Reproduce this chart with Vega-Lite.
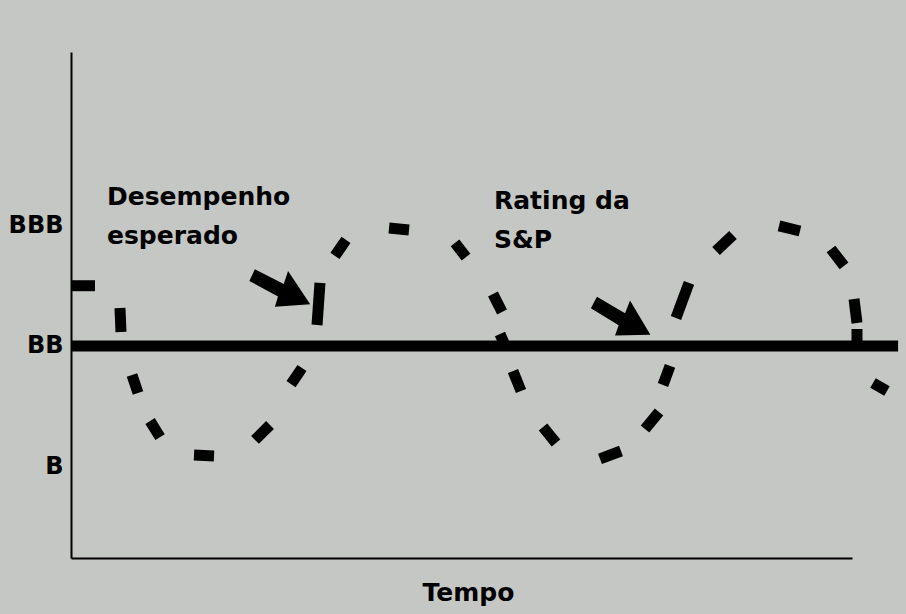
{
  "$schema": "https://vega.github.io/schema/vega-lite/v6.json",
  "width": 781,
  "height": 506,
  "autosize": "none",
  "padding": {"left": 71, "top": 52, "right": 54, "bottom": 56},
  "background": "#c4c7c4",
  "config": {"view": {"stroke": null}},
  "datasets": {
    "baseline": [{"t": 0, "t2": 105.9, "rating": 2}],
    "expected": [
      {"t": 0.13, "r": 2.5, "t2": 3.07, "r2": 2.5},
      {"t": 6.27, "r": 2.315, "t2": 6.4, "r2": 2.116},
      {"t": 7.81, "r": 1.759, "t2": 8.58, "r2": 1.61},
      {"t": 10.12, "r": 1.377, "t2": 11.4, "r2": 1.244},
      {"t": 15.75, "r": 1.095, "t2": 18.31, "r2": 1.087},
      {"t": 23.56, "r": 1.22, "t2": 25.48, "r2": 1.344},
      {"t": 28.17, "r": 1.684, "t2": 29.58, "r2": 1.817},
      {"t": 31.5, "r": 2.174, "t2": 31.88, "r2": 2.523},
      {"t": 33.8, "r": 2.747, "t2": 35.21, "r2": 2.88},
      {"t": 40.72, "r": 2.979, "t2": 43.28, "r2": 2.963},
      {"t": 49.17, "r": 2.855, "t2": 50.58, "r2": 2.738},
      {"t": 54.03, "r": 2.431, "t2": 55.19, "r2": 2.282},
      {"t": 54.93, "r": 2.099, "t2": 55.7, "r2": 1.983},
      {"t": 56.59, "r": 1.792, "t2": 57.62, "r2": 1.626},
      {"t": 60.44, "r": 1.327, "t2": 62.1, "r2": 1.195},
      {"t": 67.73, "r": 1.062, "t2": 70.42, "r2": 1.128},
      {"t": 73.5, "r": 1.311, "t2": 75.29, "r2": 1.452},
      {"t": 75.8, "r": 1.676, "t2": 76.7, "r2": 1.834},
      {"t": 77.46, "r": 2.232, "t2": 79.13, "r2": 2.523},
      {"t": 82.59, "r": 2.788, "t2": 84.76, "r2": 2.921},
      {"t": 90.65, "r": 2.996, "t2": 93.34, "r2": 2.954},
      {"t": 97.31, "r": 2.805, "t2": 98.98, "r2": 2.664},
      {"t": 100.26, "r": 2.39, "t2": 100.64, "r2": 2.191},
      {"t": 100.64, "r": 2.141, "t2": 100.64, "r2": 2.041},
      {"t": 102.69, "r": 1.693, "t2": 104.48, "r2": 1.626}
    ],
    "arrows": [
      {"t": 26.89, "r": 2.465, "dir": 25},
      {"t": 70.55, "r": 2.224, "dir": 28}
    ],
    "labels": [
      {"t": 4.61, "r": 3.17, "label": "Desempenho\nesperado"},
      {"t": 54.16, "r": 3.137, "label": "Rating da\nS&P"}
    ]
  },
  "encoding": {
    "x": {
      "field": "t",
      "type": "quantitative",
      "scale": {"domain": [0, 100], "nice": false, "zero": false},
      "axis": {
        "title": "Tempo",
        "labels": false,
        "ticks": false,
        "grid": false,
        "domainColor": "black",
        "domainWidth": 2,
        "titleFont": "DejaVu Sans",
        "titleFontSize": 25,
        "titleFontWeight": "bold",
        "titleColor": "black",
        "titleAlign": "center",
        "titleBaseline": "alphabetic",
        "titleX": 397,
        "titleY": 42
      }
    },
    "y": {
      "field": "r",
      "type": "quantitative",
      "scale": {"domain": [0.24, 4.44], "nice": false, "zero": false},
      "axis": {
        "title": null,
        "values": [1, 2, 3],
        "labelExpr": "datum.value == 3 ? 'BBB' : datum.value == 2 ? 'BB' : 'B'",
        "ticks": false,
        "grid": false,
        "domainColor": "black",
        "domainWidth": 2,
        "labelFont": "DejaVu Sans",
        "labelFontSize": 24,
        "labelFontWeight": "bold",
        "labelColor": "black",
        "labelPadding": 8
      }
    }
  },
  "layer": [
    {
      "data": {"name": "baseline"},
      "mark": {"type": "rule", "color": "black", "strokeWidth": 11, "strokeCap": "butt"},
      "encoding": {
        "x": {"field": "t", "type": "quantitative"},
        "x2": {"field": "t2"},
        "y": {"field": "rating", "type": "quantitative"}
      }
    },
    {
      "data": {"name": "expected"},
      "mark": {"type": "rule", "color": "black", "strokeWidth": 11, "strokeCap": "butt"},
      "encoding": {
        "x2": {"field": "t2"},
        "y2": {"field": "r2"}
      }
    },
    {
      "data": {"name": "arrows"},
      "mark": {
        "type": "point",
        "filled": true,
        "color": "black",
        "opacity": 1,
        "size": 4225,
        "shape": "M -1 -0.24 L 0.0 -0.2 L -0.05 -0.62 L 1 0.02 L 0.05 0.55 L 0.0 0.22 L -1 0.16 Z"
      },
      "encoding": {
        "angle": {"field": "dir", "type": "quantitative", "scale": null}
      }
    },
    {
      "data": {"name": "labels"},
      "mark": {
        "type": "text",
        "align": "left",
        "baseline": "alphabetic",
        "font": "DejaVu Sans",
        "fontSize": 25,
        "fontWeight": "bold",
        "color": "black",
        "lineBreak": "\n",
        "lineHeight": 39
      },
      "encoding": {
        "text": {"field": "label"}
      }
    }
  ]
}
